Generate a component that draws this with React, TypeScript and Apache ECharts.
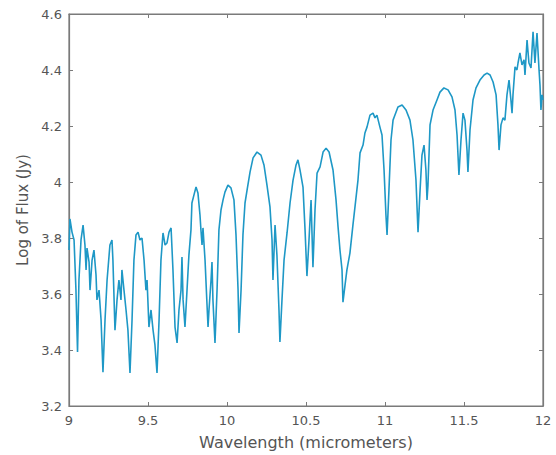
import React, { useEffect, useRef } from "react";
import * as echarts from "echarts";

const wavelength: number[] = [
  9.000, 9.006, 9.019, 9.032, 9.044, 9.054, 9.063, 9.076, 9.089, 9.101, 9.108, 9.114, 9.127, 9.133, 9.146, 9.158,
  9.171, 9.177, 9.190, 9.203, 9.215, 9.228, 9.241, 9.259, 9.272, 9.278, 9.291, 9.304, 9.316, 9.329, 9.335, 9.348,
  9.361, 9.373, 9.386, 9.399, 9.411, 9.424, 9.437, 9.449, 9.462, 9.475, 9.487, 9.494, 9.506, 9.519, 9.532, 9.544,
  9.557, 9.570, 9.582, 9.595, 9.608, 9.620, 9.633, 9.646, 9.658, 9.671, 9.684, 9.696, 9.709, 9.715, 9.722, 9.734,
  9.747, 9.759, 9.772, 9.778, 9.791, 9.804, 9.816, 9.829, 9.835, 9.842, 9.848, 9.861, 9.873, 9.880, 9.886, 9.899,
  9.905, 9.911, 9.924, 9.937, 9.949, 9.962, 9.975, 9.987, 10.006, 10.025, 10.044, 10.057, 10.070, 10.076, 10.089,
  10.101, 10.114, 10.127, 10.146, 10.165, 10.190, 10.215, 10.234, 10.253, 10.272, 10.285, 10.291, 10.304, 10.316,
  10.329, 10.335, 10.348, 10.361, 10.380, 10.399, 10.418, 10.437, 10.449, 10.462, 10.481, 10.494, 10.506, 10.519,
  10.532, 10.544, 10.557, 10.570, 10.589, 10.608, 10.627, 10.646, 10.671, 10.690, 10.703, 10.715, 10.728, 10.734,
  10.747, 10.759, 10.778, 10.797, 10.810, 10.829, 10.842, 10.861, 10.873, 10.886, 10.905, 10.924, 10.937, 10.949,
  10.968, 10.981, 10.994, 11.006, 11.013, 11.025, 11.038, 11.051, 11.063, 11.082, 11.108, 11.133, 11.158, 11.177,
  11.196, 11.209, 11.222, 11.234, 11.247, 11.259, 11.266, 11.272, 11.285, 11.304, 11.329, 11.348, 11.373, 11.399,
  11.424, 11.443, 11.456, 11.468, 11.481, 11.494, 11.506, 11.519, 11.525, 11.538, 11.557, 11.576, 11.601, 11.627,
  11.646, 11.665, 11.684, 11.703, 11.715, 11.722, 11.734, 11.747, 11.759, 11.772, 11.785, 11.797, 11.804, 11.810,
  11.823, 11.835, 11.842, 11.854, 11.867, 11.880, 11.886, 11.899, 11.911, 11.924, 11.937, 11.949, 11.962, 11.975,
  11.981, 11.987, 11.994, 12.000,
];

const logFlux: number[] = [
  3.757, 3.868, 3.821, 3.793, 3.614, 3.393, 3.650, 3.793, 3.846, 3.775, 3.686, 3.764, 3.714, 3.614, 3.721, 3.757,
  3.668, 3.579, 3.614, 3.507, 3.321, 3.507, 3.650, 3.775, 3.793, 3.721, 3.471, 3.579, 3.650, 3.579, 3.686, 3.614,
  3.543, 3.471, 3.318, 3.507, 3.721, 3.811, 3.821, 3.793, 3.800, 3.721, 3.614, 3.650, 3.482, 3.543, 3.471, 3.418,
  3.318, 3.507, 3.721, 3.818, 3.775, 3.782, 3.821, 3.836, 3.686, 3.482, 3.425, 3.543, 3.614, 3.732, 3.579, 3.482,
  3.614, 3.739, 3.829, 3.925, 3.954, 3.982, 3.961, 3.882, 3.829, 3.775, 3.836, 3.721, 3.568, 3.482, 3.543, 3.650,
  3.714, 3.579, 3.425, 3.614, 3.829, 3.900, 3.936, 3.964, 3.989, 3.979, 3.936, 3.811, 3.614, 3.461, 3.614,
  3.811, 3.925, 3.971, 4.036, 4.086, 4.107, 4.096, 4.061, 3.989, 3.911, 3.793, 3.650, 3.846, 3.739,
  3.543, 3.429, 3.579, 3.721, 3.818, 3.925, 4.007, 4.061, 4.079, 4.043, 3.982, 3.829, 3.664, 3.793,
  3.936, 3.696, 3.900, 4.032, 4.054, 4.107, 4.121, 4.107, 4.043, 3.936, 3.839, 3.757, 3.686, 3.571,
  3.632, 3.686, 3.746, 3.846, 3.911, 4.007, 4.104, 4.132, 4.175, 4.196, 4.239, 4.246, 4.229, 4.239,
  4.196, 4.168, 4.043, 3.882, 3.811, 3.971, 4.150, 4.221, 4.239, 4.268, 4.275, 4.257, 4.221, 4.150,
  4.007, 3.821, 3.971, 4.096, 4.132, 4.043, 3.936, 3.989, 4.204, 4.257, 4.293, 4.321, 4.336, 4.329,
  4.304, 4.257, 4.168, 4.025, 4.150, 4.246, 4.221, 4.114, 4.036, 4.186, 4.293, 4.336, 4.364, 4.382,
  4.389, 4.382, 4.357, 4.311, 4.204, 4.114, 4.204, 4.229, 4.221, 4.311, 4.364, 4.293, 4.246, 4.311,
  4.411, 4.400, 4.425, 4.461, 4.418, 4.436, 4.382, 4.507, 4.425, 4.407, 4.536, 4.425, 4.532, 4.400,
  4.346, 4.257, 4.311, 4.293,
];

const xTicks: number[] = [9, 9.5, 10, 10.5, 11, 11.5, 12];
const yTicks: number[] = [3.2, 3.4, 3.6, 3.8, 4, 4.2, 4.4, 4.6];

const FONT = "DejaVu Sans";
const AXIS_COLOR = "#7a7a7a";
const LABEL_COLOR = "#555555";

export default function App() {
  const ref = useRef<HTMLDivElement>(null);

  useEffect(() => {
    if (!ref.current) return;
    const chart = echarts.init(ref.current, undefined, { renderer: "svg" });
    const pts = wavelength.map((w, i) => [w, logFlux[i]]);
    const mkLine = () => ({ show: true, onZero: false, lineStyle: { color: AXIS_COLOR, width: 1.2 } });
    const mkTick = () => ({ show: true, inside: true, length: 4, lineStyle: { color: AXIS_COLOR } });
    chart.setOption({
      animation: false,
      backgroundColor: "#ffffff",
      grid: {
        left: 69,
        right: 13,
        top: 14,
        bottom: 49,
        containLabel: false,
        show: true,
        borderColor: AXIS_COLOR,
        borderWidth: 1.2,
        backgroundColor: "transparent",
      },
      xAxis: [
        {
          type: "value",
          min: xTicks[0],
          max: xTicks[xTicks.length - 1],
          interval: 0.5,
          position: "bottom",
          name: "Wavelength (micrometers)",
          nameLocation: "middle",
          nameGap: 28,
          nameTextStyle: { color: LABEL_COLOR, fontFamily: FONT, fontSize: 16 },
          axisLine: mkLine(),
          axisTick: mkTick(),
          splitLine: { show: false },
          axisLabel: {
            color: LABEL_COLOR,
            fontFamily: FONT,
            fontSize: 13,
            margin: 8,
            formatter: (v: number) => String(v),
          },
        },
        {
          type: "value",
          min: xTicks[0],
          max: xTicks[xTicks.length - 1],
          interval: 0.5,
          position: "top",
          axisLine: mkLine(),
          axisTick: mkTick(),
          splitLine: { show: false },
          axisLabel: { show: false },
        },
      ],
      yAxis: [
        {
          type: "value",
          min: yTicks[0],
          max: yTicks[yTicks.length - 1],
          interval: 0.2,
          position: "left",
          name: "Log of Flux (Jy)",
          nameLocation: "middle",
          nameGap: 34,
          nameRotate: 90,
          nameTextStyle: { color: LABEL_COLOR, fontFamily: FONT, fontSize: 15 },
          axisLine: mkLine(),
          axisTick: mkTick(),
          splitLine: { show: false },
          axisLabel: {
            color: LABEL_COLOR,
            fontFamily: FONT,
            fontSize: 13,
            margin: 7,
            formatter: (v: number) => String(Math.round(v * 10) / 10),
          },
        },
        {
          type: "value",
          min: yTicks[0],
          max: yTicks[yTicks.length - 1],
          interval: 0.2,
          position: "right",
          axisLine: mkLine(),
          axisTick: mkTick(),
          splitLine: { show: false },
          axisLabel: { show: false },
        },
      ],
      series: [
        {
          type: "line",
          data: pts,
          xAxisIndex: 0,
          yAxisIndex: 0,
          showSymbol: false,
          symbol: "none",
          lineStyle: { color: "#1e98c6", width: 1.6 },
        },
        {
          type: "line",
          data: [],
          xAxisIndex: 1,
          yAxisIndex: 1,
          showSymbol: false,
          symbol: "none",
          silent: true,
        },
      ],
    });
    return () => chart.dispose();
  }, []);

  return (
    <div
      ref={ref}
      style={{ position: "fixed", left: 0, top: 0, width: 556, height: 455 }}
    />
  );
}
